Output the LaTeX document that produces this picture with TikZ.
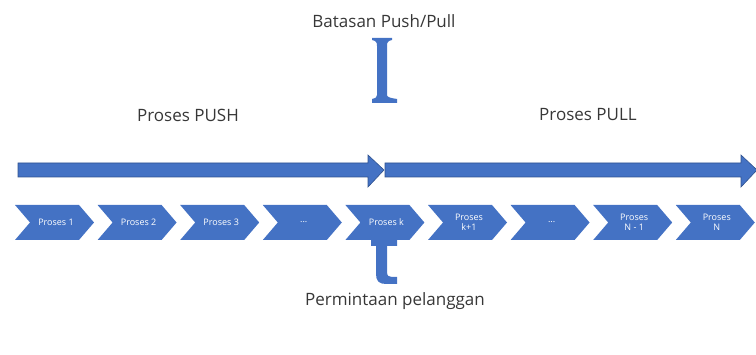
\documentclass[tikz,border=0pt]{standalone}
\usepackage{fontspec}
\setmainfont{Open Sans}
\usetikzlibrary{positioning}
\definecolor{officeblue}{RGB}{68,114,196}
\definecolor{darkblue}{RGB}{47,82,143}
\definecolor{labelgray}{RGB}{55,55,55}
\tikzset{biglabel/.style={anchor=base, font=\fontsize{17}{20}\selectfont, text=labelgray, inner sep=0pt}}

\begin{document}
\begin{tikzpicture}[
        x=1pt, y=-1pt,
        chevtext/.style={font=\fontsize{9}{10}\selectfont, text=white, align=center, inner sep=0pt},
        bigarrow/.style={fill=officeblue, draw=darkblue, line width=0.6pt},
        markshape/.style={fill=officeblue}
    ]
        \useasboundingbox (0, 0) rectangle (756, 355);
        % Labels
        \node[biglabel] (boundary) at (384, 28) {Batasan Push/Pull};
        \node[biglabel] (pushlabel) at (188, 122) {Proses PUSH};
        \node[biglabel] (pulllabel) at (588, 121) {Proses PULL};
        \node[biglabel] (demand) at (395, 306) {Permintaan pelanggan};
        % Boundary marker
        \fill[markshape] (372, 38) -- (392, 38) -- (392, 40) .. controls (388, 41) and (387, 42) .. (387, 46) -- (387, 95) .. controls (387, 97) and (390, 98) .. (397, 99) -- (397, 103) -- (372, 103) -- (372, 99) .. controls (376, 98) and (377, 97) .. (377, 95) -- (377, 46) .. controls (377, 42) and (376, 41) .. (372, 40) -- cycle;
        % Arrows
        \filldraw[bigarrow] (18, 163) -- (368, 163) -- (368, 155) -- (384, 170) -- (368, 187) -- (368, 177) -- (18, 177) -- cycle;
        \filldraw[bigarrow] (385, 163) -- (741, 163) -- (741, 155) -- (757, 170) -- (741, 187) -- (741, 177) -- (385, 177) -- cycle;
        % Chevrons
        \foreach \i/\ptext in {
            1/{Proses 1},
            2/{Proses 2},
            3/{Proses 3},
            4/{...},
            5/{Proses k},
            6/{Proses\\k+1},
            7/{...},
            8/{Proses\\N - 1},
            9/{Proses\\N}} {
            \pgfmathsetmacro{\xs}{15 + 82.6*(\i - 1)}
            \fill[officeblue] (\xs, 205) -- (\xs + 64, 205) -- (\xs + 79, 222.5) -- (\xs + 64, 240) -- (\xs, 240) -- (\xs + 15, 222.5) -- cycle;
            \node[chevtext] (step\i) at (\xs + 41, 222.5) {\ptext};
        }
        % Demand marker
        \fill[markshape] (376, 229) -- (387, 229) -- (387, 236) -- (397, 236) -- (397, 246) -- (387, 246) -- (387, 272) .. controls (387, 276) and (389, 277) .. (392, 277) -- (397, 277) -- (397, 284) -- (386, 284) .. controls (379, 284) and (376, 281) .. (376, 274) -- (376, 246) -- (371, 246) -- (371, 236) -- (376, 236) -- cycle;
    \end{tikzpicture}
\end{document}
